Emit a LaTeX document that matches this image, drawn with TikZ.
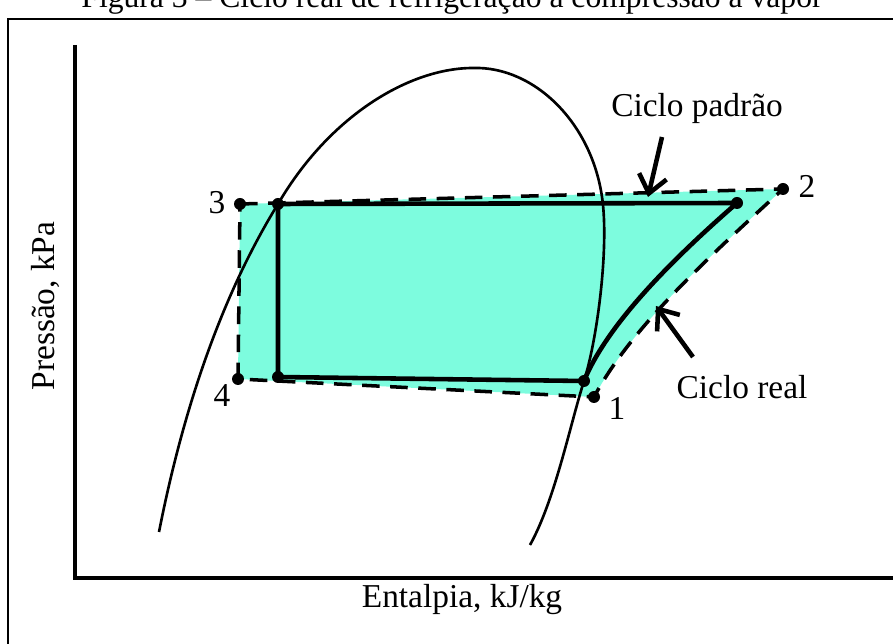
\documentclass[tikz,border=0pt]{standalone}
\usepackage{fontspec}
\setmainfont{Liberation Serif}
\usetikzlibrary{arrows.meta, positioning}
\definecolor{cyclefill}{RGB}{125,252,222}

\begin{document}
\begin{tikzpicture}[x=0.02cm, y=-0.02cm,
  lbl/.style={font=\fontsize{19}{22}\selectfont, inner sep=0pt},
  dot/.style={circle, fill=black, inner sep=0pt, minimum size=0.24cm},
  ideal/.style={line width=2pt, dash pattern=on 10pt off 6pt},
  realline/.style={line width=2.6pt, line join=round},
  pointer/.style={line width=2.6pt, -{Straight Barb[length=10pt,width=16pt]}}
]
  \useasboundingbox (0,0) rectangle (893,644);
  \clip (0,0) rectangle (893,644);
  \node[font=\fontsize{18}{21}\selectfont, anchor=base, inner sep=0pt] (caption) at (452,8) {Figura 3 -- Ciclo real de refrigeração a compressão a vapor};
  \draw[line width=1.2pt] (8,900) -- (8,19) -- (1000,19);

  \coordinate (origin) at (75,578);
  \draw[line width=2pt] (75,45) -- (origin) -- (900,578);

  \coordinate (p3) at (240,204);
  \coordinate (p2) at (783,189);
  \coordinate (p1) at (594,397);
  \coordinate (p4) at (238,379);
  \coordinate (r3) at (278,204);
  \coordinate (r2) at (737,203);
  \coordinate (r1) at (584,381);
  \coordinate (r4) at (278,377);

  \fill[cyclefill] (p3) -- (p2) .. controls (700,265) and (630,330) .. (p1) -- (p4) -- cycle;

  \draw[line width=1.5pt] (159,532) .. controls (185,400) and (225,290) .. (r3)
    .. controls (330,115) and (410,68) .. (473,68)
    .. controls (535,66) and (595,125) .. (603,205)
    .. controls (608,255) and (597,340) .. (r1)
    .. controls (570,425) and (555,500) .. (530,545);

  \draw[ideal] (p3) -- (p2) .. controls (700,265) and (630,330) .. (p1) -- (p4) -- cycle;
  \draw[realline] (r3) -- (r2) .. controls (660,270) and (605,330) .. (r1) -- (r4) -- cycle;
  \foreach \p in {p1,p2,p3,p4,r1,r2,r3,r4}
    \node[dot] at (\p) {};

  \node[lbl] (n3) at (217,203) {3};
  \node[lbl] (n4) at (222,396) {4};
  \node[lbl] (n1) at (617,408) {1};
  \node[lbl] (n2) at (807,186) {2};

  \node[lbl] (padrao) at (697,108) {Ciclo padrão};
  \coordinate (padraotail) at (662,137);
  \coordinate (padraotip) at (648,197);
  \draw[pointer] (padraotail) -- (padraotip);

  \node[lbl] (real) at (742,387) {Ciclo real};
  \coordinate (realtail) at (693,357);
  \coordinate (realtip) at (656,306);
  \draw[pointer] (realtail) -- (realtip);

  \node[lbl] (xlab) at (462,600) {Entalpia, kJ/kg};
  \node[lbl, rotate=90] (ylab) at (45,306) {Pressão, kPa};
\end{tikzpicture}
\end{document}
